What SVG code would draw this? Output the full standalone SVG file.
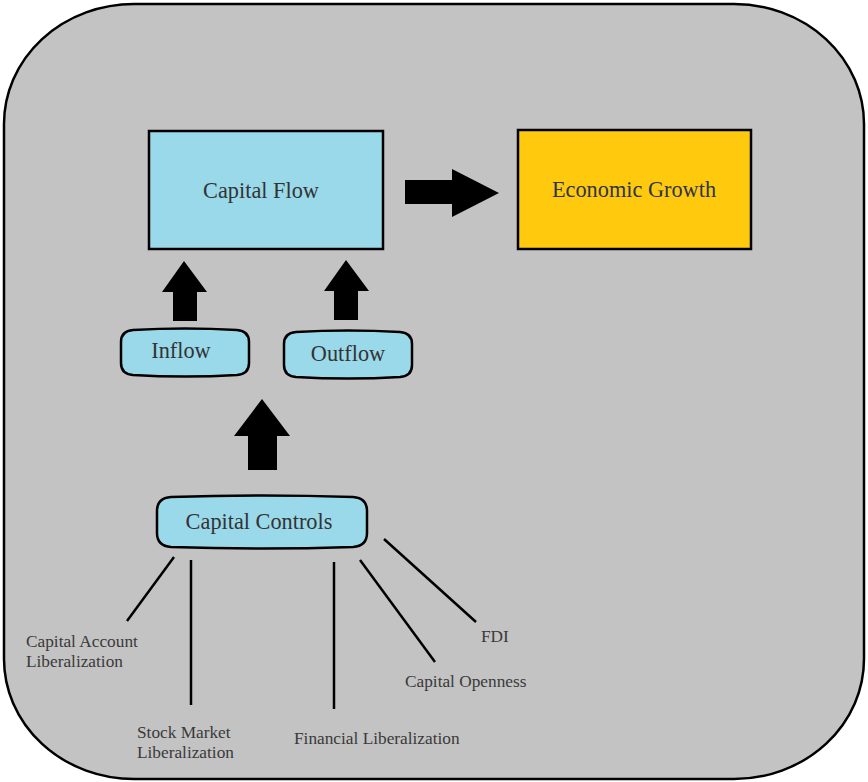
<svg xmlns="http://www.w3.org/2000/svg" width="868" height="782" viewBox="0 0 868 782">
<style>
.big{font-family:"Liberation Serif","Times New Roman",serif;font-size:22.3px;fill:#333;text-anchor:middle}
.lbl{font-family:"Liberation Serif","Times New Roman",serif;font-size:17.3px;fill:#3a3a3a}
.blue{fill:#99d9ea;stroke:#000;stroke-width:2.5}
.arrow{fill:#000}
.line{stroke:#000;stroke-width:2.5;fill:none}
</style>
<rect id="background" x="4" y="4" width="860" height="775" rx="130" ry="120" fill="#c3c3c3" stroke="#000" stroke-width="2.5"/>
<g id="capital-flow">
<rect class="blue" x="149" y="131" width="234" height="118"/>
<text class="big" x="261" y="198">Capital Flow</text>
</g>
<g id="economic-growth">
<rect x="518" y="130" width="233" height="119" fill="#ffc90e" stroke="#000" stroke-width="2.5"/>
<text class="big" x="634" y="197" style="fill:#2f3448">Economic Growth</text>
</g>
<g id="inflow">
<path class="blue" d="M133,330 Q185,327 237,330 Q249,331 249,342 L249,363 Q249,374 237,375 Q185,378 133,375 Q121,374 121,363 L121,342 Q121,331 133,330 Z"/>
<text class="big" x="181" y="358">Inflow</text>
</g>
<g id="outflow">
<path class="blue" d="M296,332 Q348,329 400,332 Q412,333 412,344 L412,365 Q412,376 400,377 Q348,380 296,377 Q284,376 284,365 L284,344 Q284,333 296,332 Z"/>
<text class="big" x="348" y="361">Outflow</text>
</g>
<g id="capital-controls">
<path class="blue" d="M171,497 Q262,494 353,497 Q367,498 367,511 L367,533 Q367,546 353,547 Q262,550 171,547 Q157,546 157,533 L157,511 Q157,498 171,497 Z"/>
<text class="big" x="259" y="529">Capital Controls</text>
</g>
<g id="labels">
<text class="lbl" x="26" y="647">Capital Account</text>
<text class="lbl" x="26" y="667">Liberalization</text>
<text class="lbl" x="137" y="738">Stock Market</text>
<text class="lbl" x="137" y="758">Liberalization</text>
<text class="lbl" x="294" y="744">Financial Liberalization</text>
<text class="lbl" x="405" y="687">Capital Openness</text>
<text class="lbl" x="481" y="642">FDI</text>
</g>
<g id="connectors">
<polygon class="arrow" points="405,180 452,180 452,169 499,193 452,217 452,204 405,204"/>
<polygon class="arrow" points="173,321 197,321 197,292 207,292 184,261 162,292 173,292"/>
<polygon class="arrow" points="334,320 358,320 358,291 369,291 346,260 324,291 334,291"/>
<polygon class="arrow" points="248,470 277,470 277,436 290,436 262,399 234,436 248,436"/>
<line class="line" x1="174" y1="557" x2="127" y2="621"/>
<line class="line" x1="191" y1="560" x2="191" y2="705"/>
<line class="line" x1="334" y1="562" x2="334" y2="709"/>
<line class="line" x1="360" y1="560" x2="435" y2="662"/>
<line class="line" x1="384" y1="539" x2="476" y2="622"/>
</g>
</svg>
